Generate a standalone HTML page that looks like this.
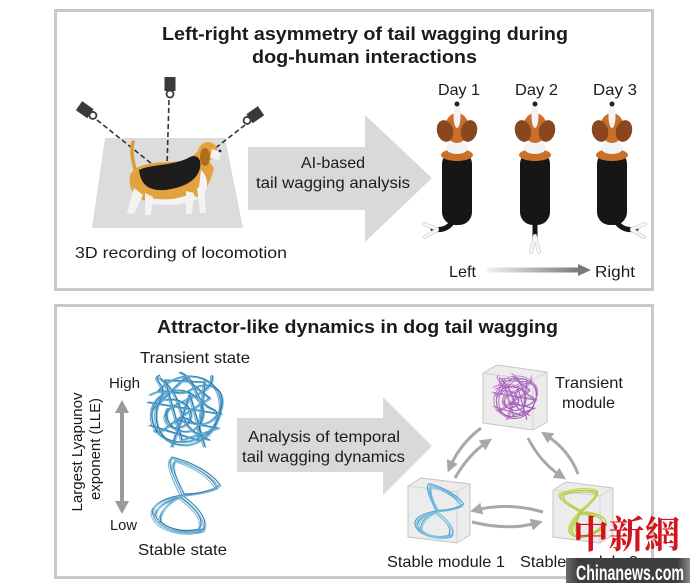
<!DOCTYPE html>
<html><head><meta charset="utf-8"><style>
html,body{margin:0;padding:0;background:#fff;}
svg{display:block;}
text{font-family:"Liberation Sans",Arial,sans-serif;fill:#1b1b1b;}
</style></head><body>
<svg width="700" height="583" viewBox="0 0 700 583" xmlns="http://www.w3.org/2000/svg">
<defs>
<linearGradient id="lr" x1="0" x2="1" y1="0" y2="0"><stop offset="0" stop-color="#f2f2f2"/><stop offset="1" stop-color="#7a7a7a"/></linearGradient>
<linearGradient id="wm" x1="0" x2="1" y1="0" y2="0"><stop offset="0" stop-color="#6a6a6a"/><stop offset="0.1" stop-color="#3e3e3e"/><stop offset="0.9" stop-color="#3e3e3e"/><stop offset="1" stop-color="#8a8a8a"/></linearGradient>
<marker id="ah" markerWidth="4" markerHeight="4" refX="2" refY="2" orient="auto"><path d="M0,0 L4,2 L0,4 Z" fill="#a8a8a8"/></marker>
<g id="blob" fill="none">
<path d="M158,392 C175,368 215,372 220,398 C226,428 196,448 170,440 C146,432 146,400 168,392 C190,384 212,404 200,424 C190,440 160,428 168,408"/>
<path d="M152,410 L185,378 L210,398 L176,420 L218,428 L182,440 L165,380 L205,382 L198,440 L150,425"/>
<path d="M180,372 C200,380 190,400 215,410 C225,420 205,445 185,445 C160,445 150,420 160,400 C170,385 150,380 160,375"/>
<path d="M165,400 C185,395 200,415 185,425 C170,435 155,415 175,405 C195,395 215,390 212,375"/>
<path d="M150,395 C165,385 178,398 190,390 C205,380 225,385 222,405 C220,420 200,430 190,420 C178,410 160,440 155,430"/>
<path d="M172,447 L190,395 L205,447 M148,402 L222,414 M160,378 C190,400 170,425 210,440"/>
</g>
<g id="hg" fill="none">
<path d="M182,495 C175,480 166,463 172,457 C185,460 210,470 220,485 C212,491 195,494 182,495"/>
<path d="M184,494 C176,478 170,466 176,460 C190,464 210,474 217,488 C207,492 194,494 184,494"/>
<path d="M182,495 C163,498 150,505 153,515 C158,530 185,536 203,531 C210,520 196,505 182,495"/>
<path d="M180,497 C165,501 154,508 156,517 C163,528 182,533 199,529 C206,518 192,506 180,497"/>
<path d="M186,494 C170,500 158,512 161,522 C172,531 190,534 205,528"/>
</g>
</defs>
<rect width="700" height="583" fill="#fff"/>
<!-- panels -->
<rect x="55.5" y="10.5" width="597" height="279" fill="none" stroke="#c8c8c8" stroke-width="3"/>
<rect x="55.5" y="305.5" width="597" height="272" fill="none" stroke="#c8c8c8" stroke-width="3"/>

<!-- top titles -->
<text x="162" y="40" font-size="18" font-weight="bold" textLength="406" lengthAdjust="spacingAndGlyphs">Left-right asymmetry of tail wagging during</text>
<text x="252" y="63" font-size="18" font-weight="bold" textLength="225" lengthAdjust="spacingAndGlyphs">dog-human interactions</text>

<!-- trapezoid -->
<polygon points="105,138 225,138 243,228 92,228" fill="#dcdcdc"/>
<!-- dashed lines -->
<g stroke="#333" stroke-width="1.6" stroke-dasharray="5,3" fill="none">
<line x1="97" y1="120" x2="157" y2="168"/>
<line x1="169" y1="100" x2="167" y2="166"/>
<line x1="245" y1="125" x2="213" y2="150"/>
</g>
<!-- cameras -->
<g transform="translate(170,88)"><rect x="-5.5" y="-11" width="11" height="14" fill="#3a3a3a"/><circle cx="0" cy="6" r="3.5" fill="#fff" stroke="#3a3a3a" stroke-width="1.8"/></g>
<g transform="translate(88,112) rotate(-55)"><rect x="-5.5" y="-11" width="11" height="14" fill="#3a3a3a"/><circle cx="0" cy="6" r="3.5" fill="#fff" stroke="#3a3a3a" stroke-width="1.8"/></g>
<g transform="translate(252,117) rotate(55)"><rect x="-5.5" y="-11" width="11" height="14" fill="#3a3a3a"/><circle cx="0" cy="6" r="3.5" fill="#fff" stroke="#3a3a3a" stroke-width="1.8"/></g>
<!-- side dog -->
<path d="M136,172 C132,160 131,150 133,142" stroke="#dd9a34" stroke-width="3.5" fill="none" stroke-linecap="round"/>
<path d="M130,176 C132,166 150,162 170,162 C185,162 195,156 200,148 L214,168 C210,184 204,196 190,200 L150,202 C136,200 128,190 130,176 Z" fill="#e2a23e"/>
<path d="M139,170 C150,164 175,166 190,157 C197,154 202,159 200,168 C197,182 181,188 165,190 C150,191 141,186 139,170 Z" fill="#1d1d1d"/>
<path d="M150,198 C165,201 180,199 192,193 L198,199 C185,206 160,206 148,203 Z" fill="#f3f3f3"/>
<path d="M201,170 C207,175 209,185 205,193 L198,191 C200,183 200,176 201,170 Z" fill="#f3f3f3"/>
<ellipse cx="208" cy="151" rx="9.5" ry="9" fill="#e2a23e"/>
<path d="M212,149 L221,152 L219,160 L210,158 Z" fill="#f3f3f3"/>
<circle cx="220" cy="151" r="1.4" fill="#222"/>
<ellipse cx="205" cy="157" rx="5" ry="9" fill="#b06c1c"/>
<path d="M134,188 L127,213 L134,214 L143,195 Z" fill="#f3f3f3"/>
<path d="M145,193 L145,215 L151,215 L153,197 Z" fill="#f3f3f3"/>
<path d="M186,191 L186,214 L192,214 L194,193 Z" fill="#f3f3f3"/>
<path d="M197,188 L200,213 L206,213 L204,185 Z" fill="#f3f3f3"/>
<text x="75" y="258" font-size="16" textLength="212" lengthAdjust="spacingAndGlyphs">3D recording of locomotion</text>

<!-- top arrow -->
<polygon points="248,147 365,147 365,115 432,178 365,242 365,210 248,210" fill="#d9d9d9"/>
<text x="333" y="168" font-size="16" text-anchor="middle">AI-based</text>
<text x="256" y="188" font-size="16" textLength="154" lengthAdjust="spacingAndGlyphs">tail wagging analysis</text>

<!-- day labels -->
<text x="438" y="95" font-size="16" textLength="42" lengthAdjust="spacingAndGlyphs">Day 1</text>
<text x="515" y="95" font-size="16" textLength="43" lengthAdjust="spacingAndGlyphs">Day 2</text>
<text x="593" y="95" font-size="16" textLength="44" lengthAdjust="spacingAndGlyphs">Day 3</text>

<!-- top-view dogs -->
<g transform="translate(457,0)">
<path d="M-3,220 C-8,228 -15,231 -24,229" stroke="#161616" stroke-width="5" fill="none" stroke-linecap="round"/>
<path d="M-20,229 L-33,224 M-20,230 L-32,237" stroke="#d0d0d0" stroke-width="4" stroke-linecap="round"/>
<path d="M-20,229 L-33,224 M-20,230 L-32,237" stroke="#f7f7f7" stroke-width="2.5" stroke-linecap="round"/>
<rect x="-15" y="151" width="30" height="74" rx="13" fill="#161616"/>
<ellipse cx="0" cy="155" rx="16" ry="6" fill="#c8702a"/>
<ellipse cx="0" cy="148" rx="11" ry="6" fill="#f3f3f3"/>
<ellipse cx="0" cy="128" rx="12" ry="15" fill="#c8702a"/>
<ellipse cx="-12" cy="131" rx="8" ry="11" fill="#8a461c" transform="rotate(-15 -12 131)"/>
<ellipse cx="12" cy="131" rx="8" ry="11" fill="#8a461c" transform="rotate(15 12 131)"/>
<ellipse cx="0" cy="116" rx="3.5" ry="12" fill="#f3f3f3"/>
<circle cx="0" cy="104" r="2.5" fill="#222"/>
</g>
<g transform="translate(535,0)">
<path d="M0,220 L0,240" stroke="#161616" stroke-width="5" fill="none" stroke-linecap="round"/>
<path d="M0,236 L-4,252 M0,236 L4,252" stroke="#d0d0d0" stroke-width="4" stroke-linecap="round"/>
<path d="M0,236 L-4,252 M0,236 L4,252" stroke="#f7f7f7" stroke-width="2.5" stroke-linecap="round"/>
<rect x="-15" y="151" width="30" height="74" rx="13" fill="#161616"/>
<ellipse cx="0" cy="155" rx="16" ry="6" fill="#c8702a"/>
<ellipse cx="0" cy="148" rx="11" ry="6" fill="#f3f3f3"/>
<ellipse cx="0" cy="128" rx="12" ry="15" fill="#c8702a"/>
<ellipse cx="-12" cy="131" rx="8" ry="11" fill="#8a461c" transform="rotate(-15 -12 131)"/>
<ellipse cx="12" cy="131" rx="8" ry="11" fill="#8a461c" transform="rotate(15 12 131)"/>
<ellipse cx="0" cy="116" rx="3.5" ry="12" fill="#f3f3f3"/>
<circle cx="0" cy="104" r="2.5" fill="#222"/>
</g>
<g transform="translate(612,0)">
<path d="M3,220 C8,228 15,231 24,229" stroke="#161616" stroke-width="5" fill="none" stroke-linecap="round"/>
<path d="M20,229 L33,224 M20,230 L32,237" stroke="#d0d0d0" stroke-width="4" stroke-linecap="round"/>
<path d="M20,229 L33,224 M20,230 L32,237" stroke="#f7f7f7" stroke-width="2.5" stroke-linecap="round"/>
<rect x="-15" y="151" width="30" height="74" rx="13" fill="#161616"/>
<ellipse cx="0" cy="155" rx="16" ry="6" fill="#c8702a"/>
<ellipse cx="0" cy="148" rx="11" ry="6" fill="#f3f3f3"/>
<ellipse cx="0" cy="128" rx="12" ry="15" fill="#c8702a"/>
<ellipse cx="-12" cy="131" rx="8" ry="11" fill="#8a461c" transform="rotate(-15 -12 131)"/>
<ellipse cx="12" cy="131" rx="8" ry="11" fill="#8a461c" transform="rotate(15 12 131)"/>
<ellipse cx="0" cy="116" rx="3.5" ry="12" fill="#f3f3f3"/>
<circle cx="0" cy="104" r="2.5" fill="#222"/>
</g>

<!-- left/right gradient arrow -->
<text x="449" y="277" font-size="16" textLength="27" lengthAdjust="spacingAndGlyphs">Left</text>
<rect x="487" y="267.5" width="92" height="5" fill="url(#lr)"/>
<polygon points="578,264 591,270 578,276" fill="#7a7a7a"/>
<text x="595" y="277" font-size="16" textLength="40" lengthAdjust="spacingAndGlyphs">Right</text>

<!-- bottom title -->
<text x="157" y="333" font-size="18" font-weight="bold" textLength="401" lengthAdjust="spacingAndGlyphs">Attractor-like dynamics in dog tail wagging</text>

<!-- bottom left -->
<text x="140" y="363" font-size="16" textLength="110" lengthAdjust="spacingAndGlyphs">Transient state</text>
<text x="109" y="388" font-size="14.5" textLength="31" lengthAdjust="spacingAndGlyphs">High</text>
<text x="110" y="530" font-size="14.5" textLength="27" lengthAdjust="spacingAndGlyphs">Low</text>
<text x="138" y="555" font-size="16" textLength="89" lengthAdjust="spacingAndGlyphs">Stable state</text>
<text transform="translate(82,452) rotate(-90)" font-size="15" text-anchor="middle" textLength="119" lengthAdjust="spacingAndGlyphs">Largest  Lyapunov</text>
<text transform="translate(100,449) rotate(-90)" font-size="15" text-anchor="middle" textLength="102" lengthAdjust="spacingAndGlyphs">exponent (LLE)</text>
<line x1="122" y1="410" x2="122" y2="504" stroke="#9a9a9a" stroke-width="4"/>
<polygon points="115,413 122,400 129,413" fill="#9a9a9a"/>
<polygon points="115,501 122,514 129,501" fill="#9a9a9a"/>

<use href="#blob" stroke="#7cc4dc" stroke-width="1.1" transform="translate(1,1)"/>
<use href="#blob" stroke="#2f6fa8" stroke-width="1.1"/>
<use href="#blob" stroke="#5aa8d0" stroke-width="1" transform="translate(-1.5,0.5)"/>
<use href="#hg" stroke="#9ccfe0" stroke-width="1.1" transform="translate(1,1)"/>
<use href="#hg" stroke="#3c7fae" stroke-width="1"/>
<use href="#hg" stroke="#6fb3d6" stroke-width="1" transform="translate(-1.5,1.5)"/>

<!-- bottom arrow -->
<polygon points="237,418 383,418 383,397 432,446 383,495 383,472 237,472" fill="#d9d9d9"/>
<text x="248" y="442" font-size="16" textLength="152" lengthAdjust="spacingAndGlyphs">Analysis of temporal</text>
<text x="242" y="462" font-size="16" textLength="163" lengthAdjust="spacingAndGlyphs">tail wagging dynamics</text>

<!-- cubes -->
<g fill="#ececec" stroke="#c4c4c4" stroke-width="1">
<polygon points="497,365 547,372 547,422 533,430 483,423 483,373"/>
<polygon points="421,478 470,484 470,535 457,543 408,537 408,486"/>
<polygon points="566,482 613,488 613,535 600,543 553,537 553,490"/>
</g>
<g stroke="#d2d2d2" stroke-width="1" fill="none">
<path d="M483,373 L533,380 L547,372 M533,380 L533,430"/>
<path d="M408,486 L457,492 L470,484 M457,492 L457,543"/>
<path d="M553,490 L600,496 L613,488 M600,496 L600,543"/>
</g>
<use href="#blob" stroke="#c77ac7" stroke-width="1.5" transform="translate(515,397) scale(0.62) translate(-186,-410)"/>
<use href="#blob" stroke="#9a5fb8" stroke-width="1.3" transform="translate(516,398) scale(0.58) translate(-186,-410)"/>
<use href="#hg" stroke="#4a9ad0" stroke-width="1.4" transform="translate(439,511) scale(0.72) translate(-186,-495)"/>
<use href="#hg" stroke="#7ec3e3" stroke-width="1.4" transform="translate(440,512) scale(0.7) translate(-186,-495)"/>
<use href="#hg" stroke="#d8cf3a" stroke-width="1.6" transform="translate(582,510) rotate(-35) scale(0.7) translate(-186,-495)"/>
<use href="#hg" stroke="#9ccf55" stroke-width="1.3" transform="translate(583,511) rotate(-35) scale(0.68) translate(-186,-495)"/>

<!-- curved arrows -->
<g stroke="#a8a8a8" stroke-width="3" fill="none" marker-end="url(#ah)">
<path d="M455,478 Q468,455 487,442"/>
<path d="M481,428 Q460,444 450,467"/>
<path d="M528,438 Q540,462 561,476"/>
<path d="M578,474 Q569,450 546,435"/>
<path d="M543,512 Q508,502 476,510"/>
<path d="M472,522 Q508,531 537,523"/>
</g>

<text x="555" y="388" font-size="16" textLength="68" lengthAdjust="spacingAndGlyphs">Transient</text>
<text x="562" y="408" font-size="16" textLength="53" lengthAdjust="spacingAndGlyphs">module</text>
<text x="387" y="567" font-size="16" textLength="118" lengthAdjust="spacingAndGlyphs">Stable module 1</text>
<text x="520" y="567" font-size="16" textLength="118" lengthAdjust="spacingAndGlyphs">Stable module 2</text>

<!-- watermark -->
<text x="573" y="548" font-size="38" font-weight="bold" style="font-family:'Noto Serif CJK SC','Noto Sans CJK SC',serif;fill:#d4141c" textLength="107" lengthAdjust="spacingAndGlyphs">中新網</text>
<rect x="566" y="558" width="124" height="25" fill="url(#wm)"/>
<text x="576" y="580" font-size="21" font-weight="bold" style="fill:#fff" textLength="108" lengthAdjust="spacingAndGlyphs">Chinanews.com</text>
</svg>
</body></html>
